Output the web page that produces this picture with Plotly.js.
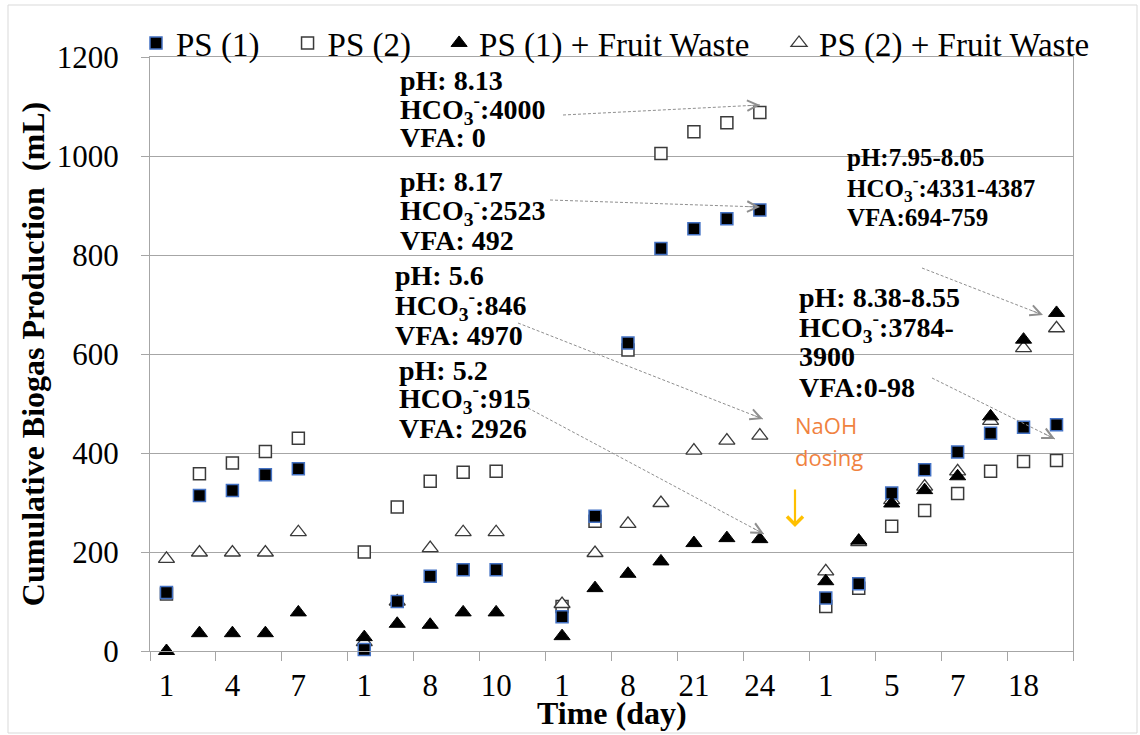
<!DOCTYPE html>
<html><head><meta charset="utf-8">
<script src="https://cdn.plot.ly/plotly-3.0.1.min.js"></script>
<style>html,body{margin:0;padding:0;background:#fff;}#chart{width:1140px;height:735px;}</style>
</head><body><div id="chart"></div>
<script>
// Day labels shown under every second sampling slot (28 slots in four runs)
const tickLabels = ['1','4','7','1','8','10','1','8','21','24','1','5','7','18'];
// Cumulative biogas production (mL) per sampling slot; null = no sample
const ps1   = [118,314,324,356,368,null,3,100,151,164,164,null,69,272,622,813,853,873,891,null,107,136,319,366,402,440,452,457];
const ps2   = [115,358,380,403,430,null,200,291,343,361,363,null,90,262,608,1005,1049,1067,1088,null,90,127,252,284,318,363,383,385];
const ps1fw = [0,36,36,36,78,null,28,55,53,78,78,null,30,127,156,181,218,228,226,null,141,223,298,325,353,474,629,683];
const ps2fw = [186,199,199,199,240,null,18,100,208,240,240,null,95,198,257,299,405,425,435,null,161,220,305,332,363,465,612,652];
const seriesNames = ['PS (1)','PS (2)','PS (1) + Fruit Waste','PS (2) + Fruit Waste'];

const M = {l:150, r:67, t:57, b:84};
const W = 1140, H = 735;
const PW = W - M.l - M.r, PH = H - M.t - M.b;
const YMAX = 1200, NCAT = ps1.length;
const cx = px => (px - M.l) / PW * NCAT - 0.5;
const vy = py => (M.t + PH - py) / PH * YMAX;
const pxp = px => (px - M.l) / PW;
const pyp = py => (M.t + PH - py) / PH;

const xs = ps1.map((_, i) => i);
const serif = 'Liberation Serif';
const padS = '\u00a0\u00a0\u2009';
const padL = '\u2002\u00a0';

const traces = [
  {name: seriesNames[1] + padS, y: ps2, legendrank: 2,
   marker: {symbol: 'square', size: 12, color: '#ffffff', line: {color: '#3a3a3a', width: 1.5}}},
  {name: seriesNames[3], y: ps2fw, legendrank: 4,
   marker: {symbol: 'triangle-up', size: 14, color: '#ffffff', line: {color: '#3a3a3a', width: 1.3}}},
  {name: seriesNames[0] + padS, y: ps1, legendrank: 1,
   marker: {symbol: 'square', size: 12, color: '#000000', line: {color: '#4472C4', width: 1.5}}},
  {name: seriesNames[2] + padL, y: ps1fw, legendrank: 3,
   marker: {symbol: 'triangle-up', size: 14, color: '#000000', line: {color: '#000000', width: 1}}}
].map(t => Object.assign({x: xs, type: 'scatter', mode: 'markers', cliponaxis: false}, t));

const annotations = [];
const shapes = [];
const HCO = 'HCO<sub>3</sub><sup>-</sup>:';
// [left px, centre px, text, font size]
const textLines = [
  [398, 80, 'pH: 8.13', 28], [398, 109, HCO + '4000', 28], [398, 137, 'VFA: 0', 28],
  [398, 181, 'pH: 8.17', 28], [398, 210, HCO + '2523', 28], [398, 240, 'VFA: 492', 28],
  [393, 275, 'pH: 5.6', 28], [393, 305, HCO + '846', 28], [393, 335, 'VFA: 4970', 28],
  [397, 370, 'pH: 5.2', 28], [397, 399, HCO + '915', 28], [397, 428, 'VFA: 2926', 28],
  [845, 158, 'pH:7.95-8.05', 25], [845, 188, HCO + '4331-4387', 25], [845, 217, 'VFA:694-759', 25],
  [797, 297, 'pH: 8.38-8.55', 28], [797, 327, HCO + '3784-', 28], [797, 357, '3900', 28], [797, 387, 'VFA:0-98', 28]
];
textLines.forEach(([px, py, t, s]) => annotations.push({
  xref: 'paper', yref: 'paper', x: pxp(px), y: pyp(py), xanchor: 'left', yanchor: 'middle',
  text: '<b>' + t + '</b>', showarrow: false, font: {family: serif, size: s, color: '#000', weight: 'bold'}
}));

const arrows = [
  [[563,115],[760,105]], [[550,200],[760,207]], [[518,323],[763,419]],
  [[528,408],[764,534]], [[922,268],[1043,315]], [[932,378],[1055,439]]
];
arrows.forEach(([a, b]) => {
  shapes.push({type: 'line', xref: 'x', yref: 'y', x0: cx(a[0]), y0: vy(a[1]), x1: cx(b[0]), y1: vy(b[1]),
    line: {color: '#8f8f8f', width: 1, dash: '3px,2px'}});
  const dx = b[0] - a[0], dy = b[1] - a[1], L = Math.hypot(dx, dy);
  annotations.push({xref: 'x', yref: 'y', x: cx(b[0]), y: vy(b[1]), text: '', showarrow: true,
    ax: -dx / L * 14, ay: -dy / L * 14, arrowhead: 5, arrowsize: 2.6, arrowwidth: 0.8, arrowcolor: '#8f8f8f'});
});

// NaOH dosing note with white box and yellow arrow
shapes.push({type: 'rect', xref: 'paper', yref: 'paper', layer: 'below',
  x0: pxp(770), x1: pxp(897), y0: pyp(478), y1: pyp(405), fillcolor: '#ffffff', line: {width: 0}});
annotations.push({xref: 'paper', yref: 'paper', x: pxp(793), y: pyp(425), xanchor: 'left', yanchor: 'middle',
  text: 'NaOH', showarrow: false, font: {family: 'Open Sans', size: 22, color: '#F0823F'}});
annotations.push({xref: 'paper', yref: 'paper', x: pxp(793), y: pyp(457), xanchor: 'left', yanchor: 'middle',
  text: 'dosing', showarrow: false, font: {family: 'Open Sans', size: 22, color: '#F0823F'}});
annotations.push({xref: 'x', yref: 'y', x: cx(795), y: vy(527), text: '', showarrow: true,
  ax: 0, ay: -39, arrowhead: 4, arrowsize: 1.4, arrowwidth: 2.2, arrowcolor: '#FFC000'});

// x-axis title
annotations.push({xref: 'paper', yref: 'paper', x: 0.5, y: pyp(713), xanchor: 'center', yanchor: 'middle',
  text: '<b>Time (day)</b>', showarrow: false, font: {family: serif, size: 32, color: '#000', weight: 'bold'}});

// outer frame
shapes.push({type: 'rect', xref: 'paper', yref: 'paper', layer: 'below',
  x0: pxp(8), x1: pxp(1137), y0: pyp(733), y1: pyp(5), line: {color: '#d9d9d9', width: 1}});

const boundaries = tickLabels.map((_, i) => 2 * i - 0.5).concat([2 * tickLabels.length - 0.5]);
const gridC = '#a6a6a6';

const layout = {
  width: W, height: H, margin: M,
  paper_bgcolor: '#ffffff', plot_bgcolor: '#ffffff',
  showlegend: true,
  legend: {orientation: 'h', x: pxp(136), xanchor: 'left', y: pyp(43), yanchor: 'middle',
    font: {family: serif, size: 33, color: '#000'}, bgcolor: 'rgba(0,0,0,0)', traceorder: 'normal'},
  xaxis: {range: [-0.5, NCAT - 0.5], tickmode: 'array', tickvals: tickLabels.map((_, i) => 2 * i),
    ticktext: tickLabels, ticks: '', showgrid: false, zeroline: false, ticklabelstandoff: 7,
    showline: true, linecolor: gridC, linewidth: 1, mirror: true,
    tickfont: {family: serif, size: 31, color: '#000'},
    minor: {tickmode: 'array', tickvals: boundaries, ticks: 'outside', ticklen: 9, tickcolor: gridC, tickwidth: 1, showgrid: false}},
  yaxis: {range: [0, YMAX], dtick: 200, tick0: 0, ticks: 'outside', ticklen: 8, tickcolor: gridC,
    showgrid: true, gridcolor: gridC, gridwidth: 1, zeroline: false,
    showline: true, linecolor: gridC, linewidth: 1, mirror: true, ticklabelstandoff: 16,
    tickfont: {family: serif, size: 31, color: '#000'},
    title: {text: 'Cumulative Biogas Production\u00a0\u00a0(mL)', font: {family: serif, size: 32, color: '#000', weight: 'bold'}, standoff: 2}},
  annotations: annotations, shapes: shapes
};

Plotly.newPlot('chart', traces, layout, {displayModeBar: false, staticPlot: true});
</script></body></html>
